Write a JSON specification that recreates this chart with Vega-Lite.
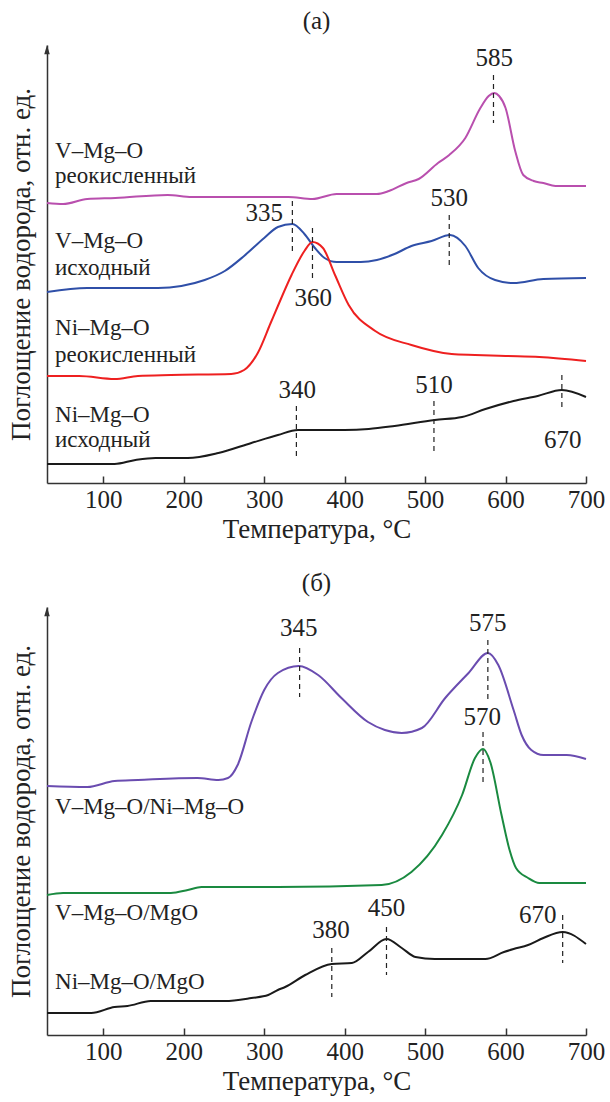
{
  "$schema": "https://vega.github.io/schema/vega-lite/v6.json",
  "padding": {"left": 7, "top": 8, "right": 5, "bottom": 2},
  "spacing": 28,
  "config": {
    "view": {"stroke": null},
    "font": "Liberation Serif",
    "title": {"font": "Liberation Serif", "fontSize": 25, "fontWeight": "normal", "color": "#222", "offset": 11},
    "axis": {"labelFont": "Liberation Serif", "titleFont": "Liberation Serif", "titleFontWeight": "normal", "labelColor": "#222", "titleColor": "#222", "domainColor": "#333", "tickColor": "#333", "grid": false, "domainWidth": 1.5, "tickWidth": 1.5, "labelFlush": false, "labelOverlap": false}
  },
  "datasets": {
    "curvesA": [
      {"s": "magenta", "T": 30, "h": 280}, {"s": "magenta", "T": 50, "h": 279}, {"s": "magenta", "T": 80, "h": 284}, {"s": "magenta", "T": 115, "h": 285}, {"s": "magenta", "T": 180, "h": 288}, {"s": "magenta", "T": 210, "h": 286}, {"s": "magenta", "T": 260, "h": 286}, {"s": "magenta", "T": 330, "h": 286}, {"s": "magenta", "T": 360, "h": 284}, {"s": "magenta", "T": 390, "h": 289}, {"s": "magenta", "T": 440, "h": 289}, {"s": "magenta", "T": 455, "h": 292}, {"s": "magenta", "T": 477, "h": 300}, {"s": "magenta", "T": 492, "h": 304}, {"s": "magenta", "T": 516, "h": 320}, {"s": "magenta", "T": 530, "h": 328}, {"s": "magenta", "T": 550, "h": 345}, {"s": "magenta", "T": 568, "h": 374}, {"s": "magenta", "T": 579, "h": 387}, {"s": "magenta", "T": 586, "h": 390}, {"s": "magenta", "T": 592, "h": 387}, {"s": "magenta", "T": 600, "h": 375}, {"s": "magenta", "T": 612, "h": 332}, {"s": "magenta", "T": 622, "h": 308}, {"s": "magenta", "T": 635, "h": 302}, {"s": "magenta", "T": 647, "h": 300}, {"s": "magenta", "T": 662, "h": 297}, {"s": "magenta", "T": 700, "h": 297},
      {"s": "blue", "T": 30, "h": 191}, {"s": "blue", "T": 80, "h": 195}, {"s": "blue", "T": 168, "h": 195}, {"s": "blue", "T": 197, "h": 197}, {"s": "blue", "T": 226, "h": 203}, {"s": "blue", "T": 251, "h": 212}, {"s": "blue", "T": 275, "h": 227}, {"s": "blue", "T": 300, "h": 245}, {"s": "blue", "T": 317, "h": 256}, {"s": "blue", "T": 335, "h": 259}, {"s": "blue", "T": 350, "h": 249}, {"s": "blue", "T": 363, "h": 235}, {"s": "blue", "T": 375, "h": 225}, {"s": "blue", "T": 390, "h": 221}, {"s": "blue", "T": 420, "h": 221}, {"s": "blue", "T": 440, "h": 223}, {"s": "blue", "T": 462, "h": 229}, {"s": "blue", "T": 483, "h": 237}, {"s": "blue", "T": 508, "h": 242}, {"s": "blue", "T": 531, "h": 248}, {"s": "blue", "T": 550, "h": 237}, {"s": "blue", "T": 566, "h": 215}, {"s": "blue", "T": 587, "h": 203}, {"s": "blue", "T": 610, "h": 200}, {"s": "blue", "T": 647, "h": 204}, {"s": "blue", "T": 700, "h": 205},
      {"s": "red", "T": 30, "h": 107}, {"s": "red", "T": 70, "h": 107}, {"s": "red", "T": 114, "h": 104}, {"s": "red", "T": 143, "h": 107}, {"s": "red", "T": 184, "h": 108}, {"s": "red", "T": 259, "h": 109}, {"s": "red", "T": 275, "h": 113}, {"s": "red", "T": 292, "h": 130}, {"s": "red", "T": 308, "h": 160}, {"s": "red", "T": 317, "h": 177}, {"s": "red", "T": 334, "h": 208}, {"s": "red", "T": 350, "h": 232}, {"s": "red", "T": 360, "h": 241}, {"s": "red", "T": 373, "h": 235}, {"s": "red", "T": 388, "h": 208}, {"s": "red", "T": 405, "h": 178}, {"s": "red", "T": 438, "h": 152}, {"s": "red", "T": 483, "h": 138}, {"s": "red", "T": 533, "h": 129}, {"s": "red", "T": 562, "h": 128}, {"s": "red", "T": 600, "h": 127}, {"s": "red", "T": 642, "h": 126}, {"s": "red", "T": 700, "h": 122},
      {"s": "black", "T": 30, "h": 19}, {"s": "black", "T": 114, "h": 19}, {"s": "black", "T": 140, "h": 23}, {"s": "black", "T": 165, "h": 25}, {"s": "black", "T": 205, "h": 25}, {"s": "black", "T": 243, "h": 30}, {"s": "black", "T": 284, "h": 40}, {"s": "black", "T": 317, "h": 48}, {"s": "black", "T": 342, "h": 53}, {"s": "black", "T": 400, "h": 53}, {"s": "black", "T": 430, "h": 54}, {"s": "black", "T": 462, "h": 57}, {"s": "black", "T": 512, "h": 63}, {"s": "black", "T": 546, "h": 66}, {"s": "black", "T": 575, "h": 74}, {"s": "black", "T": 610, "h": 82}, {"s": "black", "T": 640, "h": 87}, {"s": "black", "T": 670, "h": 93}, {"s": "black", "T": 700, "h": 86}
    ],
    "curvesB": [
      {"s": "purple", "T": 30, "h": 249}, {"s": "purple", "T": 80, "h": 248}, {"s": "purple", "T": 114, "h": 254}, {"s": "purple", "T": 143, "h": 255}, {"s": "purple", "T": 217, "h": 257}, {"s": "purple", "T": 243, "h": 255}, {"s": "purple", "T": 255, "h": 257}, {"s": "purple", "T": 267, "h": 270}, {"s": "purple", "T": 284, "h": 313}, {"s": "purple", "T": 300, "h": 345}, {"s": "purple", "T": 317, "h": 362}, {"s": "purple", "T": 343, "h": 369}, {"s": "purple", "T": 367, "h": 360}, {"s": "purple", "T": 396, "h": 337}, {"s": "purple", "T": 429, "h": 313}, {"s": "purple", "T": 450, "h": 305}, {"s": "purple", "T": 471, "h": 302}, {"s": "purple", "T": 496, "h": 307}, {"s": "purple", "T": 525, "h": 337}, {"s": "purple", "T": 554, "h": 362}, {"s": "purple", "T": 578, "h": 382}, {"s": "purple", "T": 591, "h": 370}, {"s": "purple", "T": 610, "h": 325}, {"s": "purple", "T": 620, "h": 300}, {"s": "purple", "T": 632, "h": 285}, {"s": "purple", "T": 647, "h": 280}, {"s": "purple", "T": 676, "h": 280}, {"s": "purple", "T": 700, "h": 276},
      {"s": "green", "T": 30, "h": 140}, {"s": "green", "T": 50, "h": 142}, {"s": "green", "T": 184, "h": 142}, {"s": "green", "T": 205, "h": 145}, {"s": "green", "T": 222, "h": 148}, {"s": "green", "T": 317, "h": 148}, {"s": "green", "T": 446, "h": 150}, {"s": "green", "T": 483, "h": 163}, {"s": "green", "T": 521, "h": 200}, {"s": "green", "T": 546, "h": 240}, {"s": "green", "T": 562, "h": 277}, {"s": "green", "T": 572, "h": 286}, {"s": "green", "T": 581, "h": 273}, {"s": "green", "T": 595, "h": 220}, {"s": "green", "T": 605, "h": 185}, {"s": "green", "T": 613, "h": 167}, {"s": "green", "T": 628, "h": 157}, {"s": "green", "T": 642, "h": 152}, {"s": "green", "T": 700, "h": 152},
      {"s": "black", "T": 30, "h": 22}, {"s": "black", "T": 85, "h": 22}, {"s": "black", "T": 114, "h": 28}, {"s": "black", "T": 130, "h": 29}, {"s": "black", "T": 159, "h": 34}, {"s": "black", "T": 251, "h": 34}, {"s": "black", "T": 284, "h": 37}, {"s": "black", "T": 305, "h": 40}, {"s": "black", "T": 317, "h": 45}, {"s": "black", "T": 326, "h": 48}, {"s": "black", "T": 351, "h": 60}, {"s": "black", "T": 384, "h": 71}, {"s": "black", "T": 409, "h": 72}, {"s": "black", "T": 429, "h": 83}, {"s": "black", "T": 452, "h": 96}, {"s": "black", "T": 471, "h": 87}, {"s": "black", "T": 488, "h": 78}, {"s": "black", "T": 512, "h": 76}, {"s": "black", "T": 575, "h": 76}, {"s": "black", "T": 598, "h": 83}, {"s": "black", "T": 610, "h": 86}, {"s": "black", "T": 628, "h": 90}, {"s": "black", "T": 647, "h": 97}, {"s": "black", "T": 671, "h": 103}, {"s": "black", "T": 700, "h": 91}
    ],
    "marksA": [
      {"T": 585, "h": 408, "h2": 360}, {"T": 335, "h": 282, "h2": 232}, {"T": 360, "h": 255, "h2": 205}, {"T": 530, "h": 268, "h2": 218}, {"T": 340, "h": 77, "h2": 25}, {"T": 511, "h": 82, "h2": 30}, {"T": 670, "h": 108, "h2": 72}
    ],
    "marksB": [
      {"T": 344, "h": 387, "h2": 338}, {"T": 578, "h": 395, "h2": 335}, {"T": 572, "h": 303, "h2": 253}, {"T": 384, "h": 87, "h2": 38}, {"T": 452, "h": 108, "h2": 60}, {"T": 671, "h": 120, "h2": 72}
    ],
    "peaksA": [
      {"label": "585", "T": 586, "h": 425}, {"label": "335", "T": 300, "h": 270}, {"label": "530", "T": 530, "h": 285}, {"label": "360", "T": 361, "h": 185}, {"label": "340", "T": 341, "h": 93}, {"label": "510", "T": 511, "h": 98}, {"label": "670", "T": 671, "h": 43}
    ],
    "peaksB": [
      {"label": "345", "T": 343, "h": 407}, {"label": "575", "T": 578, "h": 412}, {"label": "570", "T": 571, "h": 318}, {"label": "380", "T": 383, "h": 105}, {"label": "450", "T": 452, "h": 127}, {"label": "670", "T": 640, "h": 120}
    ],
    "namesA": [
      {"label": "V–Mg–O", "T": 40, "h": 332}, {"label": "реокисленный", "T": 40, "h": 307},
      {"label": "V–Mg–O", "T": 40, "h": 242}, {"label": "исходный", "T": 40, "h": 215},
      {"label": "Ni–Mg–O", "T": 40, "h": 155}, {"label": "реокисленный", "T": 40, "h": 128},
      {"label": "Ni–Mg–O", "T": 40, "h": 68}, {"label": "исходный", "T": 40, "h": 43}
    ],
    "namesB": [
      {"label": "V–Mg–O/Ni–Mg–O", "T": 40, "h": 228}, {"label": "V–Mg–O/MgO", "T": 40, "h": 122}, {"label": "Ni–Mg–O/MgO", "T": 40, "h": 53}
    ]
  },
  "vconcat": [
    {
      "width": 539,
      "height": 438,
      "title": {"text": "(a)"},
      "encoding": {
        "x": {"field": "T", "type": "quantitative", "scale": {"domain": [30, 700], "nice": false, "zero": false},
              "axis": {"values": [100, 200, 300, 400, 500, 600, 700], "tickSize": -7, "labelFontSize": 25, "labelPadding": 11, "title": "Температура, °C", "titleFontSize": 27, "titlePadding": 4}},
        "y": {"field": "h", "type": "quantitative", "scale": {"domain": [0, 438], "nice": false, "zero": false},
              "axis": {"ticks": false, "labels": false, "title": "Поглощение водорода, отн. ед.", "titleFontSize": 27, "titlePadding": 12}}
      },
      "layer": [
        {"data": {"name": "curvesA"}, "mark": {"type": "line", "strokeWidth": 2, "interpolate": "monotone"},
         "encoding": {"color": {"field": "s", "type": "nominal", "legend": null,
           "scale": {"domain": ["magenta", "blue", "red", "black"], "range": ["#b94fae", "#2f4fa8", "#ee2020", "#1a1a1a"]}}}},
        {"data": {"name": "marksA"}, "mark": {"type": "rule", "strokeDash": [5, 4], "color": "#222", "strokeWidth": 1.2},
         "encoding": {"y2": {"field": "h2"}}},
        {"data": {"name": "peaksA"}, "mark": {"type": "text", "fontSize": 25, "color": "#222", "font": "Liberation Serif"},
         "encoding": {"text": {"field": "label"}}},
        {"data": {"name": "namesA"}, "mark": {"type": "text", "fontSize": 23, "color": "#222", "align": "left", "font": "Liberation Serif"},
         "encoding": {"text": {"field": "label"}}},
        {"data": {"values": [{"T": 30, "h": 432}]}, "mark": {"type": "point", "shape": "M0,-1L0.45,0.55L-0.45,0.55Z", "filled": true, "color": "#333", "size": 150, "opacity": 1},
         "encoding": {}}
      ]
    },
    {
      "width": 539,
      "height": 428,
      "title": {"text": "(б)"},
      "encoding": {
        "x": {"field": "T", "type": "quantitative", "scale": {"domain": [30, 700], "nice": false, "zero": false},
              "axis": {"values": [100, 200, 300, 400, 500, 600, 700], "tickSize": -7, "labelFontSize": 25, "labelPadding": 11, "title": "Температура, °C", "titleFontSize": 27, "titlePadding": 4}},
        "y": {"field": "h", "type": "quantitative", "scale": {"domain": [0, 428], "nice": false, "zero": false},
              "axis": {"ticks": false, "labels": false, "title": "Поглощение водорода, отн. ед.", "titleFontSize": 27, "titlePadding": 12}}
      },
      "layer": [
        {"data": {"name": "curvesB"}, "mark": {"type": "line", "strokeWidth": 2, "interpolate": "monotone"},
         "encoding": {"color": {"field": "s", "type": "nominal", "legend": null,
           "scale": {"domain": ["purple", "green", "black"], "range": ["#6a4cb0", "#1a8a40", "#1a1a1a"]}}}},
        {"data": {"name": "marksB"}, "mark": {"type": "rule", "strokeDash": [5, 4], "color": "#222", "strokeWidth": 1.2},
         "encoding": {"y2": {"field": "h2"}}},
        {"data": {"name": "peaksB"}, "mark": {"type": "text", "fontSize": 25, "color": "#222", "font": "Liberation Serif"},
         "encoding": {"text": {"field": "label"}}},
        {"data": {"name": "namesB"}, "mark": {"type": "text", "fontSize": 23, "color": "#222", "align": "left", "font": "Liberation Serif"},
         "encoding": {"text": {"field": "label"}}},
        {"data": {"values": [{"T": 30, "h": 422}]}, "mark": {"type": "point", "shape": "M0,-1L0.45,0.55L-0.45,0.55Z", "filled": true, "color": "#333", "size": 150, "opacity": 1},
         "encoding": {}}
      ]
    }
  ],
  "resolve": {"scale": {"color": "independent"}}
}
